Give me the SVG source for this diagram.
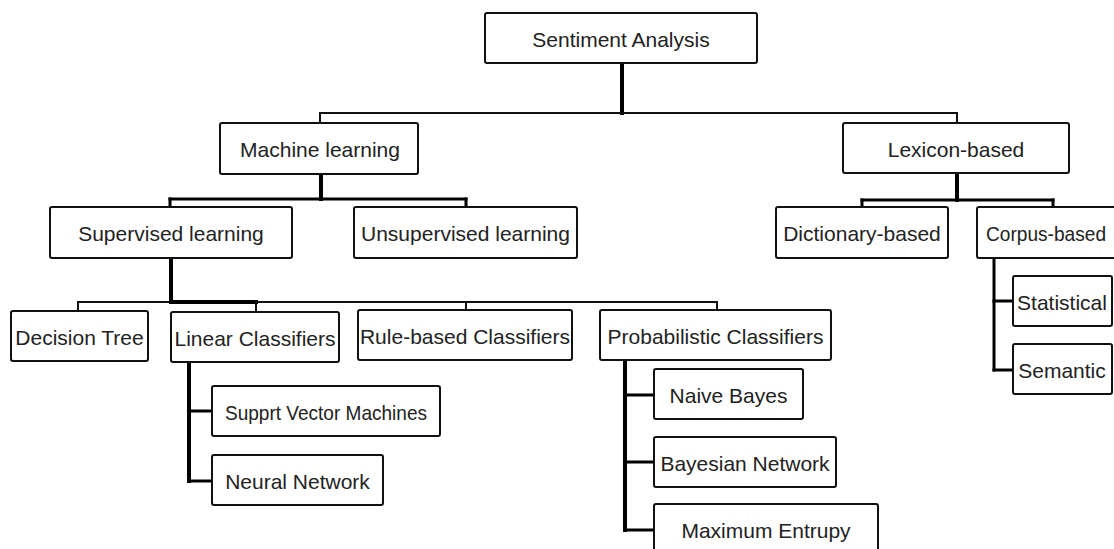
<svg xmlns="http://www.w3.org/2000/svg" width="1114" height="549" viewBox="0 0 1114 549">
  <style>
    .box { fill: #ffffff; stroke: #111111; stroke-width: 2; }
    .lbl { font-family: "Liberation Sans", Arial, sans-serif; font-size: 21px; fill: #222222; text-anchor: middle; }
    .stem { stroke: #000000; stroke-width: 4; fill: none; }
    .bar { stroke: #000000; stroke-width: 3; fill: none; }
    .thin { stroke: #111111; stroke-width: 2; fill: none; }
  </style>
  <rect width="1114" height="549" fill="#ffffff"/>

  <!-- connectors -->
  <g id="connectors" stroke-linecap="square">
    <!-- root -->
    <line class="stem" x1="622" y1="63" x2="622" y2="113"/>
    <line class="thin" x1="320" y1="113" x2="957" y2="113"/>
    <line class="thin" x1="320" y1="113" x2="320" y2="123"/>
    <line class="thin" x1="957" y1="113" x2="957" y2="123"/>
    <!-- machine learning -->
    <line class="stem" x1="321" y1="174" x2="321" y2="199"/>
    <line class="bar" x1="170" y1="199" x2="466" y2="199"/>
    <line class="bar" x1="170" y1="199" x2="170" y2="207"/>
    <line class="bar" x1="466" y1="199" x2="466" y2="207"/>
    <!-- supervised learning -->
    <line class="stem" x1="171" y1="258" x2="171" y2="302"/>
    <line class="thin" x1="78" y1="302" x2="717" y2="302"/>
    <line class="stem" x1="171" y1="302" x2="256" y2="302"/>
    <line class="thin" x1="78" y1="302" x2="78" y2="311"/>
    <line class="thin" x1="256" y1="302" x2="256" y2="312"/>
    <line class="thin" x1="466" y1="302" x2="466" y2="310"/>
    <line class="thin" x1="717" y1="302" x2="717" y2="310"/>
    <!-- linear classifiers -->
    <line class="stem" x1="189" y1="362" x2="189" y2="481"/>
    <line class="bar" x1="189" y1="411" x2="212" y2="411"/>
    <line class="bar" x1="189" y1="481" x2="212" y2="481"/>
    <!-- probabilistic classifiers -->
    <line class="stem" x1="625" y1="360" x2="625" y2="530"/>
    <line class="bar" x1="625" y1="395" x2="654" y2="395"/>
    <line class="bar" x1="625" y1="462" x2="654" y2="462"/>
    <line class="bar" x1="625" y1="530" x2="654" y2="530"/>
    <!-- lexicon-based -->
    <line class="stem" x1="957" y1="173" x2="957" y2="200"/>
    <line class="bar" x1="862" y1="200" x2="1053" y2="200"/>
    <line class="bar" x1="862" y1="200" x2="862" y2="207"/>
    <line class="bar" x1="1053" y1="200" x2="1053" y2="207"/>
    <!-- corpus-based -->
    <line class="bar" x1="994" y1="258" x2="994" y2="370"/>
    <line class="bar" x1="994" y1="301" x2="1013" y2="301"/>
    <line class="bar" x1="994" y1="370" x2="1013" y2="370"/>
  </g>

  <g id="sentiment-analysis">
    <rect class="box" x="485" y="13" width="272" height="50" rx="2"/>
    <text class="lbl" x="621" y="47">Sentiment Analysis</text>
  </g>
  <g id="machine-learning">
    <rect class="box" x="220" y="123" width="198" height="51" rx="2"/>
    <text class="lbl" x="320" y="157">Machine learning</text>
  </g>
  <g id="lexicon-based">
    <rect class="box" x="843" y="123" width="226" height="50" rx="2"/>
    <text class="lbl" x="956" y="157">Lexicon-based</text>
  </g>
  <g id="supervised-learning">
    <rect class="box" x="50" y="207" width="242" height="51" rx="2"/>
    <text class="lbl" x="171" y="241">Supervised learning</text>
  </g>
  <g id="unsupervised-learning">
    <rect class="box" x="354" y="207" width="223" height="51" rx="2"/>
    <text class="lbl" x="465.5" y="241">Unsupervised learning</text>
  </g>
  <g id="dictionary-based">
    <rect class="box" x="776" y="207" width="172" height="51" rx="2"/>
    <text class="lbl" x="862" y="241">Dictionary-based</text>
  </g>
  <g id="corpus-based">
    <rect class="box" x="977" y="207" width="150" height="51" rx="2"/>
    <text class="lbl" x="1046" y="241" textLength="120" lengthAdjust="spacingAndGlyphs">Corpus-based</text>
  </g>
  <g id="statistical">
    <rect class="box" x="1013" y="276" width="99" height="50" rx="2"/>
    <text class="lbl" x="1062" y="310">Statistical</text>
  </g>
  <g id="semantic">
    <rect class="box" x="1013" y="344" width="99" height="50" rx="2"/>
    <text class="lbl" x="1062" y="378">Semantic</text>
  </g>
  <g id="decision-tree">
    <rect class="box" x="11" y="311" width="137" height="50" rx="2"/>
    <text class="lbl" x="79.5" y="345">Decision Tree</text>
  </g>
  <g id="linear-classifiers">
    <rect class="box" x="171" y="312" width="168" height="50" rx="2"/>
    <text class="lbl" x="255" y="346">Linear Classifiers</text>
  </g>
  <g id="rule-based-classifiers">
    <rect class="box" x="358" y="310" width="214" height="50" rx="2"/>
    <text class="lbl" x="465" y="344">Rule-based Classifiers</text>
  </g>
  <g id="probabilistic-classifiers">
    <rect class="box" x="600" y="310" width="231" height="50" rx="2"/>
    <text class="lbl" x="715.5" y="344">Probabilistic Classifiers</text>
  </g>
  <g id="support-vector-machines">
    <rect class="box" x="212" y="386" width="228" height="50" rx="2"/>
    <text class="lbl" x="326" y="420" textLength="202" lengthAdjust="spacingAndGlyphs">Supprt Vector Machines</text>
  </g>
  <g id="neural-network">
    <rect class="box" x="212" y="455" width="171" height="50" rx="2"/>
    <text class="lbl" x="297.5" y="489">Neural Network</text>
  </g>
  <g id="naive-bayes">
    <rect class="box" x="654" y="369" width="149" height="50" rx="2"/>
    <text class="lbl" x="728.5" y="403">Naive Bayes</text>
  </g>
  <g id="bayesian-network">
    <rect class="box" x="654" y="437" width="182" height="50" rx="2"/>
    <text class="lbl" x="745" y="471">Bayesian Network</text>
  </g>
  <g id="maximum-entropy">
    <rect class="box" x="654" y="504" width="224" height="52" rx="2"/>
    <text class="lbl" x="766" y="538">Maximum Entrupy</text>
  </g>
</svg>
